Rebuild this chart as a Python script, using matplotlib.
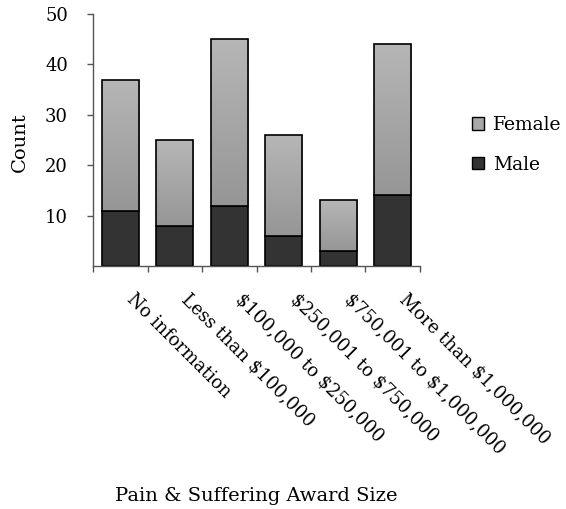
import numpy as np
import matplotlib
matplotlib.use("Agg")
import matplotlib.pyplot as plt
from matplotlib.patches import Patch
from matplotlib.colors import LinearSegmentedColormap

categories = ["No information", "Less than \\$100,000", "\\$100,000 to \\$250,000",
              "\\$250,001 to \\$750,000", "\\$750,001 to \\$1,000,000", "More than \\$1,000,000"]
male = [11, 8, 12, 6, 3, 14]
female = [26, 17, 33, 20, 10, 30]
y_ticks = [10, 20, 30, 40, 50]

plt.rcParams['font.family'] = ['DejaVu Serif']
plt.rcParams['font.size'] = 14

fig = plt.figure(figsize=(5.66, 5.09), dpi=100)
ax = fig.add_axes([93/566, 1-266/509, (420-93)/566, (266-14)/509])

x = np.arange(len(categories))
width = 0.68
male_col = "#333333"
fem_top, fem_bot = "#b6b6b6", "#969696"

bars_m = ax.bar(x, male, width, color=male_col, edgecolor="black", linewidth=1.2, zorder=2)
bars_f = ax.bar(x, female, width, bottom=male, color="none", edgecolor="black",
                linewidth=1.2, zorder=3)

# vertical gradient fill for the female segments
grad = np.linspace(0, 1, 256).reshape(-1, 1)
cmap = LinearSegmentedColormap.from_list("fem", [fem_bot, fem_top])
for b in bars_f:
    x0, y0 = b.get_x(), b.get_y()
    w, h = b.get_width(), b.get_height()
    im = ax.imshow(grad, cmap=cmap, aspect="auto", origin="lower",
                   extent=[x0, x0 + w, y0, y0 + h], zorder=2.5)
    im.set_clip_path(b)

ax.set_xlim(-0.5, len(categories) - 0.5)
ax.set_ylim(0, 50)
ax.set_yticks(y_ticks)
ax.set_yticklabels([str(v) for v in y_ticks], fontsize=13)
ax.set_xticks(np.arange(-0.5, len(categories), 1.0))
ax.set_xticklabels([])
ax.tick_params(axis="both", direction="out", length=4, width=1, color="#555555")
ax.tick_params(axis="y", pad=14)

for s in ["top", "right"]:
    ax.spines[s].set_visible(False)
for s in ["left", "bottom"]:
    ax.spines[s].set_color("#555555")
    ax.spines[s].set_linewidth(1)

for i, lab in enumerate(categories):
    ax.annotate(lab, xy=(i, 0), xycoords=("data", "axes fraction"),
                xytext=(16, -24), textcoords="offset pixels", fontsize=13,
                rotation=-45, rotation_mode="anchor", ha="left", va="top")

fig.text(20/566, 1-142/509, "Count", rotation=90, ha="center", va="center")
fig.text(256/566, 1-496/509, "Pain & Suffering Award Size", ha="center", va="center")

handles = [Patch(facecolor="#a8a8a8", edgecolor="black", linewidth=1),
           Patch(facecolor=male_col, edgecolor="black", linewidth=1)]
fig.legend(handles, ["Female", "Male"], loc="center left", fontsize=13.5,
           bbox_to_anchor=(472/566, 1-145/509), frameon=False, borderpad=0,
           borderaxespad=0, handlelength=0.65, handleheight=0.65,
           handletextpad=0.45, labelspacing=1.15)

fig.savefig("out.png", dpi=100)
